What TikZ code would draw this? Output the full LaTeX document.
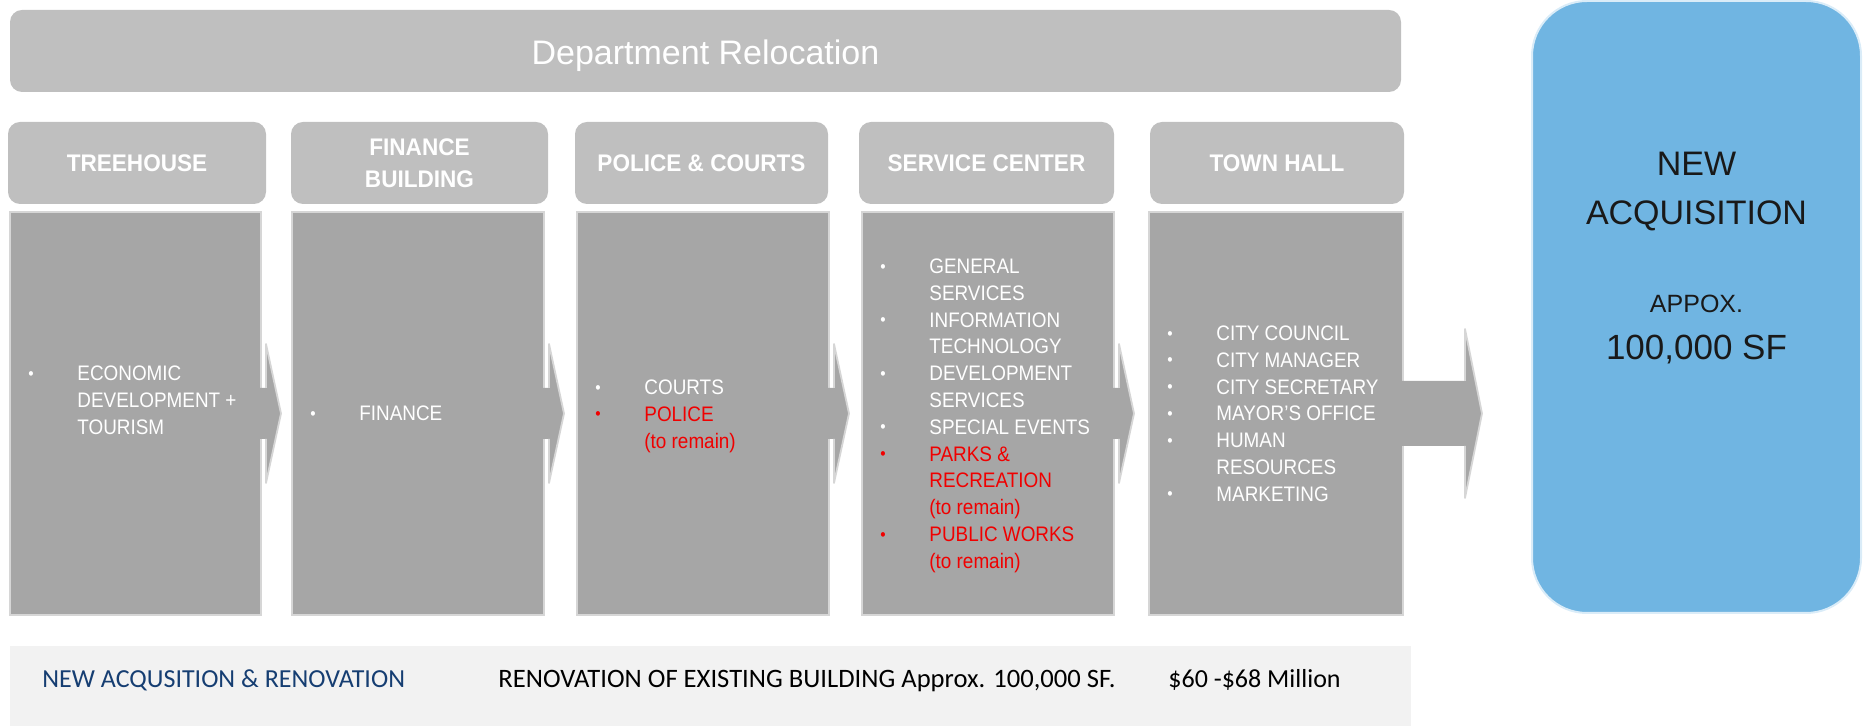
\documentclass[tikz,border=0pt]{standalone}
\usepackage{fontspec}
\setmainfont{Liberation Sans}
\newfontfamily\bodyfont[FakeStretch=0.9]{Liberation Sans}
\newfontfamily\headfont[FakeStretch=0.94]{Liberation Sans}
\newfontfamily\calfont{Carlito}
\usetikzlibrary{calc}

\definecolor{bannergray}{RGB}{191,191,191}
\definecolor{bodygray}{RGB}{166,166,166}
\definecolor{edgegray}{RGB}{214,214,214}
\definecolor{acqblue}{RGB}{112,181,226}
\definecolor{acqedge}{RGB}{218,236,248}
\definecolor{bandgray}{RGB}{242,242,242}
\definecolor{navy}{RGB}{22,62,114}
\definecolor{remainred}{RGB}{240,0,0}

% list helpers: a bullet set in a fixed-width slot, white or red
\newcommand\bul{\makebox[24.5pt][l]{\raisebox{0.7pt}{\fontsize{8.5}{8.5}\selectfont\textbullet}}}
\newcommand\rbul{\textcolor{remainred}{\bul}}
\newcommand\rd[1]{\textcolor{remainred}{#1}}
\newcommand\nobul{\makebox[24.5pt]{}}
\newenvironment{deptlist}{\begin{tabular}[t]{@{}l@{}l@{}}}{\end{tabular}}

% block arrow leaving a department box (#1 = box node)
\newcommand\chevron[1]{%
  \fill[bodygray] ($(#1.east)+(-3,-25.5)$) -- ($(#1.east)+(5,-25.5)$) -- ($(#1.east)+(5,-69.5)$)
    -- ($(#1.east)+(20,0)$) -- ($(#1.east)+(5,69.5)$) -- ($(#1.east)+(5,25.5)$)
    -- ($(#1.east)+(-3,25.5)$) -- cycle;
  \draw[arrowedge] ($(#1.east)+(5,-25.5)$) -- ($(#1.east)+(5,-69.5)$) -- ($(#1.east)+(20,0)$)
    -- ($(#1.east)+(5,69.5)$) -- ($(#1.east)+(5,25.5)$);
}

\begin{document}
\begin{tikzpicture}[x=0.5pt,y=-0.5pt,
  sz/.style 2 args={minimum width=#1*0.5pt, minimum height=#2*0.5pt},
  banner/.style={rectangle, rounded corners=6pt, fill=bannergray, inner sep=0pt, text=white,
    text depth=0pt, font=\fontsize{17}{20}\selectfont},
  hdr/.style={rectangle, rounded corners=6pt, fill=bannergray, inner sep=0pt, text=white,
    align=center, font=\headfont\bfseries\fontsize{12}{16}\selectfont},
  bodybox/.style={rectangle, fill=bodygray, draw=edgegray, line width=1.2pt, inner sep=0pt, outer sep=0pt},
  list/.style={anchor=base west, inner sep=0pt, text=white, font=\bodyfont\fontsize{10.5}{13.4}\selectfont},
  arrowedge/.style={draw=edgegray, line width=0.9pt, line join=round},
  acqbox/.style={rectangle, rounded corners=27.5pt, fill=acqblue, draw=acqedge, line width=1pt, inner sep=0pt},
  acqtext/.style={anchor=base, inner sep=0pt, text=black!90},
  band/.style={rectangle, fill=bandgray, inner sep=0pt},
  bandtext/.style={anchor=base west, inner sep=0pt, font=\calfont\fontsize{13}{13}\selectfont},
]
\useasboundingbox (0,0) rectangle (1874,726);

% title banner
\node[banner, sz={1391}{82}] (title) at (705.5,51) {\raisebox{-1.5pt}{Department Relocation}};

% building headers
\node[hdr, sz={258}{82}] (th) at (137,163)   {TREEHOUSE};
\node[hdr, sz={257}{82}] (fh) at (419.5,163) {FINANCE\\BUILDING};
\node[hdr, sz={253}{82}] (ph) at (701.5,163) {POLICE \& COURTS};
\node[hdr, sz={255}{82}] (sh) at (986.5,163) {SERVICE CENTER};
\node[hdr, sz={254}{82}] (hh) at (1277,163)  {TOWN HALL};

% department boxes
\node[bodybox, sz={251}{403}] (tb) at (135.5,413.5) {};
\node[bodybox, sz={252}{403}] (fb) at (418,413.5)   {};
\node[bodybox, sz={252}{403}] (pb) at (703,413.5)   {};
\node[bodybox, sz={252}{403}] (sb) at (988,413.5)   {};
\node[bodybox, sz={254}{403}] (hb) at (1276,413.5)  {};

% arrows between buildings
\chevron{tb}
\chevron{fb}
\chevron{pb}
\chevron{sb}

% large arrow into the new acquisition
\fill[bodygray] ($(hb.east)+(-3,-32.5)$) -- ($(hb.east)+(62,-32.5)$) -- ($(hb.east)+(62,-84.5)$)
  -- ($(hb.east)+(79,0)$) -- ($(hb.east)+(62,84.5)$) -- ($(hb.east)+(62,32.5)$)
  -- ($(hb.east)+(-3,32.5)$) -- cycle;
\draw[arrowedge] ($(hb.east)+(62,-32.5)$) -- ($(hb.east)+(62,-84.5)$) -- ($(hb.east)+(79,0)$)
  -- ($(hb.east)+(62,84.5)$) -- ($(hb.east)+(62,32.5)$);

% department lists
\node[list] (tl) at (28,380.5) {\begin{deptlist}
  \bul   & ECONOMIC\\
  \nobul & DEVELOPMENT +\\
  \nobul & TOURISM
\end{deptlist}};

\node[list] (fl) at (310,420.5) {\begin{deptlist}
  \bul & FINANCE
\end{deptlist}};

\node[list] (pl) at (595,394.5) {\begin{deptlist}
  \bul   & COURTS\\
  \rbul  & \rd{POLICE}\\
  \nobul & \rd{(to remain)}
\end{deptlist}};

\node[list] (sl) at (880,273.5) {\begin{deptlist}
  \bul   & GENERAL\\
  \nobul & SERVICES\\
  \bul   & INFORMATION\\
  \nobul & TECHNOLOGY\\
  \bul   & DEVELOPMENT\\
  \nobul & SERVICES\\
  \bul   & SPECIAL EVENTS\\
  \rbul  & \rd{PARKS \&}\\
  \nobul & \rd{RECREATION}\\
  \nobul & \rd{(to remain)}\\
  \rbul  & \rd{PUBLIC WORKS}\\
  \nobul & \rd{(to remain)}
\end{deptlist}};

\node[list] (hl) at (1167,340.5) {\begin{deptlist}
  \bul   & CITY COUNCIL\\
  \bul   & CITY MANAGER\\
  \bul   & CITY SECRETARY\\
  \bul   & MAYOR’S OFFICE\\
  \bul   & HUMAN\\
  \nobul & RESOURCES\\
  \bul   & MARKETING
\end{deptlist}};

% new acquisition
\node[acqbox, sz={329}{612}] (na) at (1696.5,307) {};
\node[acqtext, font=\fontsize{17}{17}\selectfont] (na1) at (1696.5,176) {NEW};
\node[acqtext, font=\fontsize{17}{17}\selectfont] (na2) at (1696.5,225) {ACQUISITION};
\node[acqtext, font=\fontsize{12.5}{12.5}\selectfont] (na3) at (1696.5,313) {APPOX.};
\node[acqtext, font=\fontsize{17.5}{17.5}\selectfont] (na4) at (1696.5,359.5) {100,000 SF};

% cost summary band
\node[band, sz={1401}{80}] (band) at (710.5,686) {};
\node[bandtext, text=navy] (bt1) at (42,688) {NEW ACQUSITION \& RENOVATION};
\node[bandtext, text=black, font=\calfont\fontsize{13.3}{13.3}\selectfont] (bt2) at (498,688) {RENOVATION OF EXISTING BUILDING Approx. 100,000 SF.};
\node[bandtext, text=black] (bt3) at (1168,688) {\$60 -\$68 Million};
\end{tikzpicture}
\end{document}
